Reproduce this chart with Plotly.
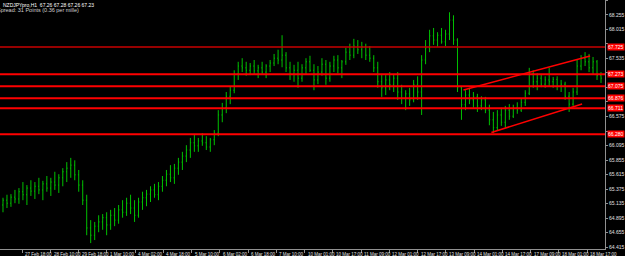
import plotly.graph_objects as go

# ---------------- data ----------------
bar_open = [65.11, 65.19, 65.14, 65.24, 65.21, 65.33, 65.28, 65.39, 65.34, 65.42,
            65.36, 65.46, 65.39, 65.49, 65.44, 65.56, 65.66, 65.72, 65.77, 65.61,
            65.44, 65.19, 64.73, 64.61, 64.76, 64.83, 64.90, 64.78, 64.94, 64.86,
            65.03, 64.99, 65.14, 65.06, 64.94, 65.16, 65.23, 65.29, 65.36, 65.28,
            65.42, 65.52, 65.62, 65.56, 65.72, 65.82, 65.92, 66.02, 66.14, 66.09,
            66.17, 66.14, 66.07, 66.19, 66.30, 66.60, 66.72, 66.91, 67.01, 67.28,
            67.41, 67.38, 67.34, 67.41, 67.33, 67.38, 67.31, 67.41, 67.46, 67.54,
            67.51, 67.59, 67.38, 67.28, 67.34, 67.21, 67.38, 67.48, 67.34, 67.18,
            67.31, 67.44, 67.21, 67.41, 67.51, 67.38, 67.48, 67.64, 67.59, 67.74,
            67.68, 67.73, 67.59, 67.54, 67.38, 67.15, 67.05, 67.18, 67.10, 67.21,
            66.98, 66.88, 66.95, 66.85, 67.10, 66.98, 67.51, 67.71, 67.91, 67.84,
            67.92, 67.81, 67.94, 68.17, 67.84, 67.05, 66.77, 66.93, 66.85, 66.90,
            66.75, 66.85, 66.68, 66.52, 66.39, 66.60, 66.48, 66.68, 66.58, 66.72,
            66.68, 66.81, 66.96, 67.28, 67.15, 67.21, 67.11, 67.18, 67.15, 67.19,
            67.08, 67.11, 66.91, 66.78, 66.98, 67.41, 67.54, 67.48, 67.38, 67.48, 67.25]

bar_high = [65.23, 65.28, 65.29, 65.36, 65.39, 65.49, 65.44, 65.52, 65.49, 65.56,
            65.51, 65.59, 65.56, 65.66, 65.62, 65.72, 65.82, 65.89, 65.85, 65.69,
            65.52, 65.28, 64.86, 64.83, 64.94, 64.96, 64.99, 65.03, 65.06, 65.11,
            65.19, 65.23, 65.28, 65.19, 65.23, 65.33, 65.36, 65.42, 65.46, 65.49,
            65.59, 65.69, 65.77, 65.79, 65.89, 65.99, 66.10, 66.22, 66.27, 66.22,
            66.30, 66.25, 66.22, 66.35, 66.68, 66.80, 66.98, 67.08, 67.34, 67.48,
            67.54, 67.48, 67.46, 67.51, 67.43, 67.48, 67.44, 67.51, 67.61, 67.68,
            67.92, 67.64, 67.48, 67.43, 67.48, 67.44, 67.54, 67.58, 67.44, 67.41,
            67.54, 67.51, 67.48, 67.58, 67.59, 67.51, 67.71, 67.78, 67.86, 67.84,
            67.81, 67.78, 67.74, 67.59, 67.48, 67.28, 67.26, 67.31, 67.28, 67.31,
            67.10, 67.01, 67.05, 67.18, 67.24, 67.59, 67.84, 68.01, 68.04, 67.97,
            68.04, 68.01, 68.30, 68.25, 67.87, 67.08, 67.01, 67.05, 66.98, 66.95,
            66.91, 66.90, 66.77, 66.65, 66.68, 66.72, 66.75, 66.78, 66.77, 66.81,
            66.88, 67.01, 67.38, 67.34, 67.29, 67.28, 67.24, 67.38, 67.23, 67.24,
            67.18, 67.15, 66.98, 67.05, 67.51, 67.59, 67.64, 67.61, 67.56, 67.51, 67.31]

bar_low = [64.99, 65.06, 65.08, 65.14, 65.13, 65.19, 65.11, 65.26, 65.21, 65.29,
           65.19, 65.33, 65.26, 65.36, 65.31, 65.42, 65.49, 65.56, 65.52, 65.33,
           65.11, 64.61, 64.48, 64.53, 64.66, 64.70, 64.61, 64.70, 64.76, 64.80,
           64.90, 64.93, 64.96, 64.83, 64.90, 65.03, 65.09, 65.16, 65.23, 65.19,
           65.33, 65.42, 65.49, 65.46, 65.61, 65.69, 65.82, 65.89, 65.99, 65.99,
           66.09, 66.02, 65.99, 66.10, 66.25, 66.48, 66.63, 66.78, 66.96, 67.18,
           67.31, 67.25, 67.26, 67.28, 67.21, 67.28, 67.21, 67.31, 67.41, 67.44,
           67.39, 67.31, 67.18, 67.15, 67.05, 67.15, 67.28, 67.31, 67.01, 67.11,
           67.25, 67.10, 67.15, 67.31, 67.29, 67.21, 67.43, 67.51, 67.54, 67.61,
           67.54, 67.51, 67.48, 67.31, 67.05, 66.90, 66.93, 67.01, 66.98, 66.85,
           66.78, 66.68, 66.75, 66.81, 66.85, 66.60, 67.44, 67.64, 67.76, 67.73,
           67.78, 67.74, 67.84, 67.76, 66.98, 66.52, 66.68, 66.78, 66.72, 66.65,
           66.68, 66.63, 66.43, 66.30, 66.34, 66.42, 66.39, 66.52, 66.55, 66.62,
           66.65, 66.75, 66.93, 67.05, 67.01, 67.06, 67.05, 67.08, 67.05, 67.01,
           66.98, 66.85, 66.65, 66.75, 66.93, 67.34, 67.41, 67.31, 67.28, 67.18, 67.13]

bar_close = [65.19, 65.14, 65.24, 65.21, 65.33, 65.28, 65.39, 65.34, 65.42, 65.36,
             65.46, 65.39, 65.49, 65.44, 65.56, 65.66, 65.72, 65.77, 65.61, 65.44,
             65.19, 64.73, 64.61, 64.76, 64.83, 64.90, 64.78, 64.94, 64.86, 65.03,
             64.99, 65.14, 65.06, 64.94, 65.16, 65.23, 65.29, 65.36, 65.28, 65.42,
             65.52, 65.62, 65.56, 65.72, 65.82, 65.92, 66.02, 66.14, 66.09, 66.17,
             66.14, 66.07, 66.19, 66.30, 66.60, 66.72, 66.91, 67.01, 67.28, 67.41,
             67.38, 67.34, 67.41, 67.33, 67.38, 67.31, 67.41, 67.46, 67.54, 67.51,
             67.59, 67.38, 67.28, 67.34, 67.21, 67.38, 67.48, 67.34, 67.18, 67.31,
             67.44, 67.21, 67.41, 67.51, 67.38, 67.48, 67.64, 67.59, 67.74, 67.68,
             67.73, 67.59, 67.54, 67.38, 67.15, 67.05, 67.18, 67.10, 67.21, 66.98,
             66.88, 66.95, 66.85, 67.10, 66.98, 67.51, 67.71, 67.91, 67.84, 67.92,
             67.81, 67.94, 68.17, 67.84, 67.05, 66.77, 66.93, 66.85, 66.90, 66.75,
             66.85, 66.68, 66.52, 66.39, 66.60, 66.48, 66.68, 66.58, 66.72, 66.68,
             66.81, 66.96, 67.28, 67.15, 67.21, 67.11, 67.18, 67.15, 67.19, 67.08,
             67.11, 66.91, 66.78, 66.98, 67.41, 67.54, 67.48, 67.38, 67.48, 67.25, 67.21]

# horizontal support / resistance levels
levels = [67.725, 67.273, 67.075, 66.876, 66.711, 66.280]
level_colors = ["#c80000", "#ff0000", "#ff0000", "#ff0000", "#ff0000", "#ff0000"]

# channel trend lines (bar index, price)
upper_trend_x = [115.5, 147.25]
upper_trend_y = [67.014, 67.576]
lower_trend_x = [122.5, 145.25]
lower_trend_y = [66.310, 66.782]

x_tick_labels = ["26 Feb 2016", "27 Feb 18:00", "28 Feb 10:00", "29 Feb 18:00", "1 Mar 10:00",
                 "4 Mar 02:00", "4 Mar 18:00", "5 Mar 10:00", "6 Mar 02:00", "6 Mar 18:00",
                 "7 Mar 10:00", "10 Mar 01:00", "10 Mar 17:00", "11 Mar 09:00", "12 Mar 01:00",
                 "12 Mar 17:00", "13 Mar 09:00", "14 Mar 01:00", "14 Mar 17:00", "17 Mar 09:00",
                 "18 Mar 01:00", "18 Mar 17:00"]

y_tick_labels = ["64.415", "64.655", "64.895", "65.135", "65.375", "65.615", "65.855",
                 "66.095", "66.335", "66.575", "66.815", "67.055", "67.295", "67.535",
                 "67.775", "68.015", "68.255", "68.495"]

title_line1 = "NZDJPYpro,H1  67.26 67.28 67.26 67.23"
title_line2 = "Spread: 31 Points (0.36 per mille)"

# ---------------- figure ----------------
n = len(bar_close)
idx = list(range(n))

fig = go.Figure()
fig.add_trace(go.Ohlc(
    x=idx, open=bar_open, high=bar_high, low=bar_low, close=bar_close,
    increasing=dict(line=dict(color="#00c000", width=1)),
    decreasing=dict(line=dict(color="#00c000", width=1)),
    tickwidth=0.2, showlegend=False, hoverinfo="skip"))

shapes = []
for v, c in zip(levels, level_colors):
    shapes.append(dict(type="line", xref="paper", yref="y", x0=0, x1=1, y0=v, y1=v,
                       line=dict(color=c, width=2 if c == "#ff0000" else 1.5), layer="above"))
for xs, ys in ((upper_trend_x, upper_trend_y), (lower_trend_x, lower_trend_y)):
    shapes.append(dict(type="line", xref="x", yref="y", x0=xs[0], x1=xs[1], y0=ys[0], y1=ys[1],
                       line=dict(color="#ff0000", width=1.5), layer="above"))

annotations = []
for v in levels:
    annotations.append(dict(xref="paper", yref="y", x=1, y=v, xanchor="left", yanchor="middle",
                            xshift=2, text=f"{v:.3f}", showarrow=False, bgcolor="#ff0000",
                            borderpad=0, font=dict(color="white", size=5, family="Liberation Sans")))

# y tick labels hidden behind the red level boxes (as in the reference)
px_per_price = 249 / (68.503 - 64.382)
shown_y_text = [s if min(abs(float(s) - v) for v in levels) * px_per_price > 4 else ""
                for s in y_tick_labels]

bars_per_tick = 85 / 12
first_tick = -2.25
tick_pos = [first_tick + k * bars_per_tick for k in range(len(x_tick_labels))]
for p, t in zip(tick_pos, x_tick_labels):
    annotations.append(dict(xref="x", yref="paper", x=p, y=0, xanchor="left", yanchor="top",
                            xshift=1, yshift=-1, text=t, showarrow=False,
                            font=dict(color="#e0e0e0", size=4.5, family="Liberation Sans")))

annotations.append(dict(xref="paper", yref="paper", x=0, y=1, xanchor="left", yanchor="top",
                        xshift=1, yshift=0, text=title_line1, showarrow=False,
                        font=dict(color="white", size=5, family="Liberation Sans")))
annotations.append(dict(xref="paper", yref="paper", x=0, y=1, xanchor="left", yanchor="top",
                        xshift=-5, yshift=-5, text=title_line2, showarrow=False,
                        font=dict(color="#d0d0d0", size=5.5, family="Liberation Sans")))

fig.update_layout(
    width=625, height=256,
    margin=dict(l=0, r=18, t=0, b=7),
    paper_bgcolor="black", plot_bgcolor="black",
    shapes=shapes, annotations=annotations,
    xaxis=dict(range=[-0.75, 151], showgrid=False, zeroline=False, rangeslider=dict(visible=False),
               showline=True, linecolor="#909090", linewidth=1,
               tickvals=tick_pos, ticktext=[""] * len(tick_pos),
               ticks="outside", ticklen=3, tickcolor="#909090"),
    yaxis=dict(range=[64.382, 68.503], side="right", showgrid=False, zeroline=False,
               showline=True, linecolor="#909090", linewidth=1,
               tickvals=[float(s) for s in y_tick_labels], ticktext=shown_y_text,
               ticks="outside", ticklen=2, tickcolor="#909090",
               tickfont=dict(color="#e0e0e0", size=5, family="Liberation Sans")),
)

fig.write_html("out.html")
